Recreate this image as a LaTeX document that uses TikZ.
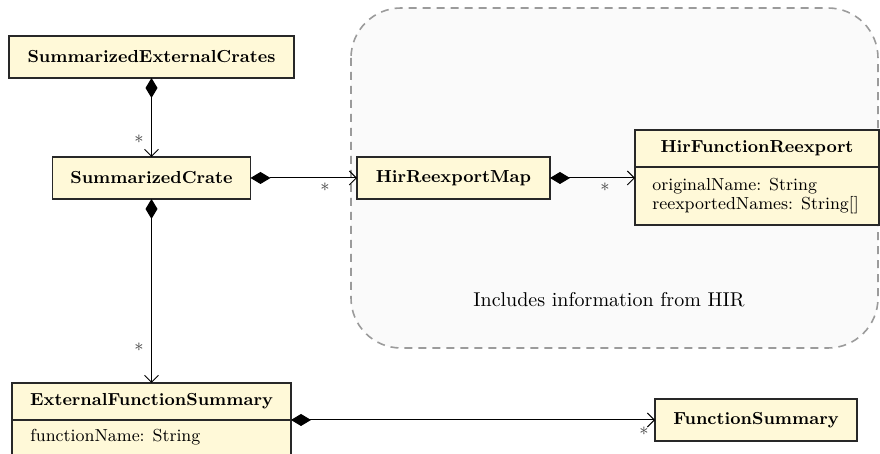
\documentclass[tikz,border=0pt]{standalone}
\usetikzlibrary{arrows.meta}
\definecolor{classfill}{RGB}{255,249,216}
\definecolor{classline}{RGB}{40,40,40}
\definecolor{regionfill}{RGB}{250,250,250}
\definecolor{regionline}{RGB}{155,155,155}
\definecolor{multgray}{RGB}{70,70,70}
\newcommand{\classfont}{\fontsize{8.7pt}{10pt}\selectfont}
\begin{document}
\begin{tikzpicture}[x=0.5pt,y=-0.5pt,
  classbox/.style={draw=classline, fill=classfill, line width=0.6pt, inner sep=0pt,
    outer sep=0pt, font=\classfont\bfseries},
  attrtext/.style={font=\classfont, align=left, inner sep=0pt},
  mult/.style={font=\small, text=multgray, inner sep=0pt},
  comp/.style={line width=0.5pt, draw=black,
    {Diamond[length=10pt,width=6pt]}-{Straight Barb[length=3.5pt,width=7pt]}},
]
\useasboundingbox (0,0) rectangle (880,454);
\clip (0,0) rectangle (880,454);

% HIR region
\draw[regionline, fill=regionfill, line width=0.8pt, dash pattern=on 4pt off 3pt,
  rounded corners=25pt] (351,8) rectangle (878,348);
\node[font=\normalsize, inner sep=0pt] (hirnote) at (609,300) {Includes information from HIR};

% classes
\node[classbox, minimum width=142.5pt, minimum height=21pt] (sec) at (151.5,57) {SummarizedExternalCrates};
\node[classbox, minimum width=99pt, minimum height=21pt] (sc) at (151.5,178) {SummarizedCrate};
\node[classbox, minimum width=96.5pt, minimum height=21pt] (hrm) at (453.5,178) {HirReexportMap};
\node[classbox, minimum width=101pt, minimum height=21pt] (fs) at (756,420) {FunctionSummary};

\node[classbox, minimum width=122pt, minimum height=18.5pt] (hfrhead) at (757,148.5) {HirFunctionReexport};
\node[classbox, minimum width=122pt, minimum height=29pt] (hfrbody) at (757,196) {};
\node[attrtext, anchor=west] (hfrattr) at (652,196) {originalName: String\\[-0.6pt]reexportedNames: String[]};

\node[classbox, minimum width=139.5pt, minimum height=18.5pt] (efshead) at (151.5,401.5) {ExternalFunctionSummary};
\node[classbox, minimum width=139.5pt, minimum height=25pt, anchor=north] (efsbody) at (151.5,420) {};
\node[attrtext, anchor=west] (efsattr) at (30,437) {functionName: String};

% compositions
\draw[comp] (sec.south) -- (sc.north);
\draw[comp] (sc.east) -- (hrm.west);
\draw[comp] (hrm.east) -- (hrm.east -| hfrbody.west);
\draw[comp] (sc.south) -- (efshead.north);
\draw[comp] (efshead.south east) -- (fs.west);

% multiplicities
\node[mult] (m1) at (139,142) {*};
\node[mult] (m2) at (325,190) {*};
\node[mult] (m3) at (605,190) {*};
\node[mult] (m4) at (139,350) {*};
\node[mult] (m5) at (644,434) {*};
\end{tikzpicture}
\end{document}
